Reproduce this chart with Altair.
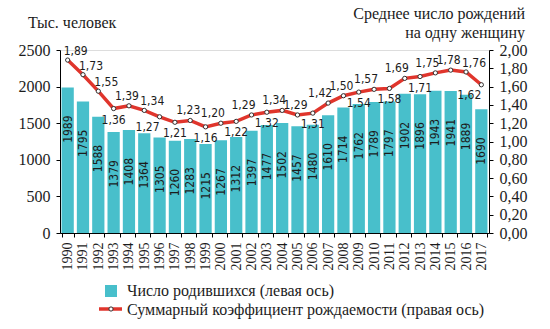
import altair as alt
import pandas as pd

years = list(range(1990, 2018))
births = [1989, 1795, 1588, 1379, 1408, 1364, 1305, 1260, 1283, 1215, 1267, 1312, 1397, 1477,
          1502, 1457, 1480, 1610, 1714, 1762, 1789, 1797, 1902, 1896, 1943, 1941, 1889, 1690]
tfr = [1.89, 1.73, 1.55, 1.36, 1.39, 1.34, 1.27, 1.21, 1.23, 1.16, 1.20, 1.22, 1.29, 1.32,
       1.34, 1.29, 1.31, 1.42, 1.50, 1.54, 1.57, 1.58, 1.69, 1.71, 1.75, 1.78, 1.76, 1.62]
# label placement around each point of the line (style only)
label_side = ["ur", "ur", "ur", "d", "u", "ur", "dl", "d", "u", "d", "ul", "d", "ul", "d",
              "ul", "u", "d", "ul", "u", "d", "ul", "d", "ul", "d", "ul", "u", "ur", "dl"]
left_ticks = [0, 500, 1000, 1500, 2000, 2500]
right_ticks = [0, 0.2, 0.4, 0.6, 0.8, 1.0, 1.2, 1.4, 1.6, 1.8, 2.0]

left_title = "Тыс. человек"
right_title = ["Среднее число рождений", "на одну женщину"]
legend_bar = "Число родившихся (левая ось)"
legend_line = "Суммарный коэффициент рождаемости (правая ось)"

TEAL = "#48bfcb"
RED = "#e0352c"
INK = "#1c1c1c"
SERIF = "Liberation Serif"
NARROW = "DejaVu Sans Condensed"

df = pd.DataFrame({
    "year": years,
    "births": births,
    "tfr": tfr,
    "side": label_side,
    "tfr_label": [f"{v:.2f}".replace(".", ",") for v in tfr],
})

W, H = 429, 183
PL, PT = 60, 50

x = alt.X("year:O",
          scale=alt.Scale(paddingInner=0.2, paddingOuter=0.1),
          axis=alt.Axis(title=None, labelAngle=270, labelFont=SERIF, labelFontSize=14,
                        labelColor=INK, tickBand="extent", tickSize=4, tickColor="black",
                        domainColor="black", labelPadding=5))

yl = alt.Y("births:Q",
           scale=alt.Scale(domain=[0, 2500], nice=False, zero=True),
           axis=alt.Axis(title=None, orient="left", values=left_ticks, grid=False, format="d",
                         labelFont=SERIF, labelFontSize=16, labelColor=INK,
                         tickSize=4, tickColor="black", domainColor="black", labelPadding=6))

yr = alt.Y("tfr:Q",
           scale=alt.Scale(domain=[0, 2.0], nice=False, zero=True),
           axis=alt.Axis(title=None, orient="right", values=right_ticks, grid=False,
                         labelExpr="replace(format(datum.value, '.2f'), '.', ',')",
                         labelFont=SERIF, labelFontSize=16, labelColor=INK,
                         tickSize=4, tickColor="black", domainColor="black", labelPadding=6))

base = alt.Chart(df)

bars = base.mark_bar(color=TEAL).encode(x=x, y=yl)
bar_labels = base.mark_text(angle=270, align="right", baseline="middle", dx=-28,
                            font=NARROW, fontSize=12, color=INK).encode(
    x=x, y=yl, text="births:Q")
left_layer = alt.layer(bars, bar_labels)

line = base.mark_line(color=RED, strokeWidth=3.5).encode(x=x, y=yr)
pts = base.mark_point(filled=True, fill="white", stroke="#333", strokeWidth=1,
                      size=18, opacity=1).encode(x=x, y=yr)

offsets = {"ur": (8, -9), "u": (-2, -10), "ul": (-8, -10), "d": (0, 11), "dl": (-12, 10)}
tfr_texts = []
for side, (ddx, ddy) in offsets.items():
    tfr_texts.append(
        base.transform_filter(alt.datum.side == side).mark_text(
            dx=ddx, dy=ddy, font=NARROW, fontSize=12, color=INK, baseline="middle",
            align="center").encode(x=x, y=yr, text="tfr_label:N"))
right_layer = alt.layer(line, pts, *tfr_texts)

one = pd.DataFrame({"a": [0]})
deco = alt.Chart(one)
t_left = deco.mark_text(align="left", baseline="middle", font=SERIF, fontSize=16,
                        color=INK).encode(x=alt.value(28 - PL), y=alt.value(23 - PT),
                                          text=alt.value(left_title))
t_right1 = deco.mark_text(align="right", baseline="middle", font=SERIF, fontSize=16,
                          color=INK).encode(x=alt.value(525 - PL), y=alt.value(14 - PT),
                                            text=alt.value(right_title[0]))
t_right2 = deco.mark_text(align="right", baseline="middle", font=SERIF, fontSize=16,
                          color=INK).encode(x=alt.value(525 - PL), y=alt.value(33 - PT),
                                            text=alt.value(right_title[1]))
lg_sq = deco.mark_square(size=144, color=TEAL, opacity=1, filled=True).encode(
    x=alt.value(111 - PL), y=alt.value(291 - PT))
lg_t1 = deco.mark_text(align="left", baseline="middle", font=SERIF, fontSize=16,
                       color=INK).encode(x=alt.value(127 - PL), y=alt.value(291 - PT),
                                         text=alt.value(legend_bar))
lg_rule = deco.mark_rule(color=RED, strokeWidth=3.5).encode(
    x=alt.value(99 - PL), x2=alt.value(122 - PL), y=alt.value(309 - PT))
lg_pt = deco.mark_point(filled=True, fill="white", stroke="#333", strokeWidth=1,
                        size=18, opacity=1).encode(x=alt.value(111 - PL), y=alt.value(309 - PT))
lg_t2 = deco.mark_text(align="left", baseline="middle", font=SERIF, fontSize=16,
                       color=INK).encode(x=alt.value(127 - PL), y=alt.value(310 - PT),
                                         text=alt.value(legend_line))

main = alt.layer(left_layer, right_layer).resolve_scale(y="independent")
chart = alt.layer(main, t_left, t_right1, t_right2, lg_sq, lg_t1, lg_rule, lg_pt, lg_t2).properties(
    width=W, height=H,
    autosize=alt.AutoSizeParams(type="none"),
    padding={"left": PL, "top": PT, "right": 550 - PL - W, "bottom": 329 - PT - H},
).configure_view(stroke=None).configure_axis(
    labelFont=SERIF, labelColor=INK
).configure(background="white")

chart.save("out.html", embed_options={"renderer": "svg", "actions": False})
